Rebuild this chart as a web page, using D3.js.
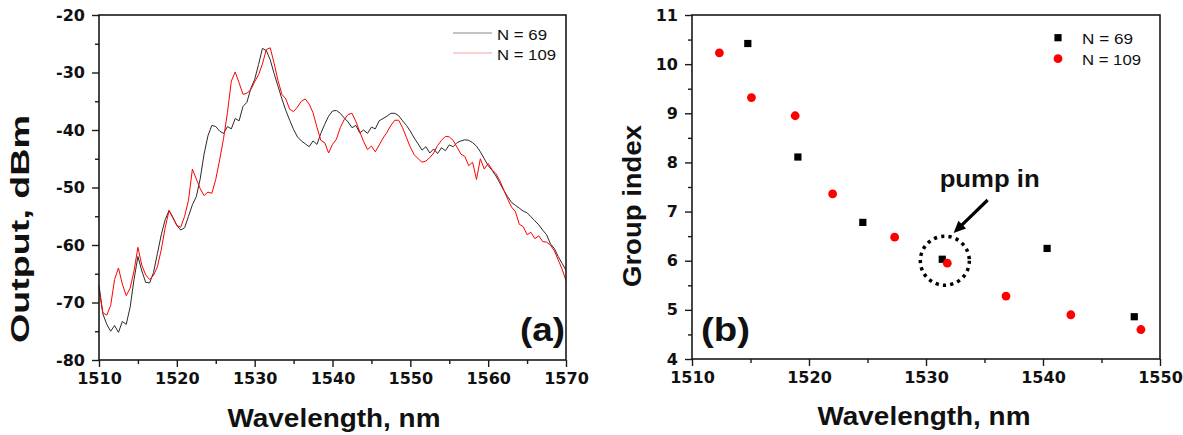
<!DOCTYPE html>
<html><head><meta charset="utf-8">
<script src="https://cdn.jsdelivr.net/npm/d3@7"></script>
<style>body{margin:0;background:#fff}svg{display:block}</style>
</head><body><svg id="c" width="1183" height="435"></svg>
<script>
// ---------- DATA ----------
const seriesLabels = ["N = 69", "N = 109"];
const panelLabels = ["(a)", "(b)"];
const xTitle = "Wavelength, nm";
const yTitleA = "Output, dBm";
const yTitleB = "Group index";
const annotationText = "pump in";

const spectrumWavelengths = [
 1510,1510.5,1511,1511.5,1512,1512.5,1513,1513.5,1514,1514.5,
 1515,1515.5,1516,1516.5,1517,1517.5,1518,1518.5,1519,1519.5,
 1520,1520.5,1521,1521.5,1522,1522.5,1523,1523.5,1524,1524.5,
 1525,1525.5,1526,1526.5,1527,1527.5,1528,1528.5,1529,1529.5,
 1530,1530.5,1531,1531.5,1532,1532.5,1533,1533.5,1534,1534.5,
 1535,1535.5,1536,1536.5,1537,1537.5,1538,1538.5,1539,1539.5,
 1540,1540.5,1541,1541.5,1542,1542.5,1543,1543.5,1544,1544.5,
 1545,1545.5,1546,1546.5,1547,1547.5,1548,1548.5,1549,1549.5,
 1550,1550.5,1551,1551.5,1552,1552.5,1553,1553.5,1554,1554.5,
 1555,1555.5,1556,1556.5,1557,1557.5,1558,1558.5,1559,1559.5,
 1560,1560.5,1561,1561.5,1562,1562.5,1563,1563.5,1564,1564.5,
 1565,1565.5,1566,1566.5,1567,1567.5,1568,1568.5,1569,1569.5,
 1570];
const outputN69 = [
 -67,-72,-73.8,-75,-74,-75.2,-73.3,-73.8,-70.8,-66,
 -62,-64.5,-66.5,-66.6,-64.8,-61.5,-58.2,-55.6,-54,-55.2,
 -56.6,-57.4,-57,-55,-53,-51.6,-48.5,-44.2,-41,-39.2,
 -39.4,-40.2,-40.6,-39.4,-39.8,-38,-38.4,-35.9,-35.2,-32.8,
 -31.2,-28.6,-25.8,-26.2,-27.8,-30.2,-32.4,-34.6,-36.6,-38.3,
 -39.9,-41.2,-41.9,-42.4,-42.9,-41.9,-42.5,-40.6,-39,-37.6,
 -36.7,-36.6,-37.1,-37.9,-38.6,-39.6,-39.2,-40.5,-40,-40.6,
 -39.5,-39.8,-38.4,-38,-37.6,-37.1,-37.1,-37.5,-38.4,-39.2,
 -40.2,-41.4,-42.4,-43.5,-42.9,-44,-43.3,-44.1,-43.1,-43.6,
 -42.6,-42.9,-42.2,-41.9,-41.7,-41.8,-42.2,-42.8,-43.8,-45,
 -46.2,-47,-48,-49.2,-50.5,-51.6,-52.6,-53.1,-53.6,-54.1,
 -54.4,-55.1,-55.8,-56.5,-57.4,-58.2,-59.8,-60.6,-62,-63.2,
 -64.4];
const outputN109 = [
 -67.8,-71.8,-72.2,-70.5,-66,-64,-66.8,-68.8,-67.5,-64.5,
 -60.4,-63.5,-65.2,-66,-65.3,-63.8,-60.8,-57,-54,-55.3,
 -56.6,-56.9,-55,-52.2,-46.8,-48.5,-50.2,-51.4,-50.8,-51,
 -48.6,-45.2,-41.5,-37,-31.5,-29.9,-31.8,-33.8,-33.6,-33,
 -31.6,-30.4,-28.5,-26,-25.7,-28.4,-31.4,-33.8,-34.6,-36.4,
 -36.8,-36,-35,-34.6,-35.5,-37,-39.5,-41.8,-42.2,-44,
 -42.5,-41.6,-39.6,-38.2,-37.3,-37.1,-38.5,-40.3,-42,-43.4,
 -42.8,-43.8,-42.6,-41.4,-40.4,-39.2,-38.3,-38.3,-39.6,-41.3,
 -43,-44.3,-45,-45.6,-45.4,-44.8,-44,-42.7,-41.8,-41.1,
 -41.2,-41.8,-43,-44.2,-44.6,-46.2,-45.6,-48.6,-45,-46.8,
 -45.8,-46.9,-47.6,-48.8,-50.4,-52,-53.4,-54.2,-56.4,-56.8,
 -58.2,-57.8,-58.9,-58.4,-59.4,-59.5,-60,-61,-62.6,-64.2,
 -66.2];

const groupWlN69 = [1514.77,1519.05,1524.6,1531.39,1540.35,1547.8];
const groupIdxN69 = [10.42,8.11,6.78,6.03,6.25,4.86];
const groupWlN109 = [1512.34,1515.08,1518.82,1522.02,1527.32,1531.82,1536.84,1542.38,1548.37];
const groupIdxN109 = [10.23,9.32,8.95,7.36,6.48,5.95,5.28,4.90,4.60];

const spectrumXTicks = [1510,1520,1530,1540,1550,1560,1570];
const spectrumXMinor = [1515,1525,1535,1545,1555,1565];
const spectrumYTicks = [-80,-70,-60,-50,-40,-30,-20];
const spectrumYMinor = [-75,-65,-55,-45,-35,-25];
const groupXTicks = [1510,1520,1530,1540,1550];
const groupXMinor = [1515,1525,1535,1545];
const groupYTicks = [4,5,6,7,8,9,10,11];
const groupYMinor = [4.5,5.5,6.5,7.5,8.5,9.5,10.5];

// annotation anchor in data units (pump wavelength / group index)
const pumpCircle = [1531.61, 6.0];
const pumpArrowFrom = [1535.27, 7.235];
const pumpArrowTo = [1532.36, 6.564];
const pumpTextAt = [1535.44, 7.5];

// ---------- DRAW ----------
const svg = d3.select("#c");
const INK = "#1a1a1a";
const RED = "#ff0000";
const TICKFONT = "'DejaVu Sans', sans-serif";
const TITLEFONT = "'Liberation Sans', Arial, sans-serif";

function axes(g, x, y, xt, xm, yt, ym) {
  const [x0, x1] = x.range(), [y0, y1] = y.range();
  const fmt = d => String(d);
  const bx = g.append("g").attr("transform", `translate(0,${y0})`)
    .call(d3.axisBottom(x).tickValues(xt).tickSize(7).tickPadding(6).tickFormat(fmt));
  const bxm = g.append("g").attr("transform", `translate(0,${y0})`)
    .call(d3.axisBottom(x).tickValues(xm).tickSize(4).tickFormat(""));
  const ly = g.append("g").attr("transform", `translate(${x0},0)`)
    .call(d3.axisLeft(y).tickValues(yt).tickSize(7).tickPadding(7).tickFormat(fmt));
  const lym = g.append("g").attr("transform", `translate(${x0},0)`)
    .call(d3.axisLeft(y).tickValues(ym).tickSize(4).tickFormat(""));
  [bx, bxm, ly, lym].forEach(a => {
    a.select(".domain").remove();
    a.selectAll("line").attr("stroke", INK).attr("stroke-width", 1.4);
    a.selectAll("text").attr("fill", "#111").style("font-family", TICKFONT)
      .style("font-weight", "bold").style("font-size", "16px");
  });
  g.append("rect").attr("x", x0).attr("y", y1).attr("width", x1 - x0).attr("height", y0 - y1)
    .attr("fill", "none").attr("stroke", INK).attr("stroke-width", 1.6);
}

function txt(g, s, x, y, size, weight, len, opts = {}) {
  const t = g.append("text").attr("x", x).attr("y", y).text(s)
    .attr("text-anchor", opts.anchor || "start")
    .style("font-family", TITLEFONT).style("font-weight", weight)
    .style("font-size", size + "px").attr("fill", opts.fill || "#111");
  if (len) t.attr("textLength", len).attr("lengthAdjust", "spacingAndGlyphs");
  if (opts.rotate) t.attr("transform", `rotate(-90,${x},${y})`);
  return t;
}

// ----- Panel (a) -----
const xa = d3.scaleLinear().domain([1510, 1570]).range([99, 566]);
const ya = d3.scaleLinear().domain([-80, -20]).range([360, 15]);
const ga = svg.append("g");
const lineA = (vals) => d3.line().x((d, i) => xa(spectrumWavelengths[i])).y(d => ya(d))(vals);
ga.append("path").attr("d", lineA(outputN69)).attr("fill", "none").attr("stroke", "#2a2a2a").attr("stroke-width", 1);
ga.append("path").attr("d", lineA(outputN109)).attr("fill", "none").attr("stroke", RED).attr("stroke-width", 1);
axes(ga, xa, ya, spectrumXTicks, spectrumXMinor, spectrumYTicks, spectrumYMinor);

// legend (a)
[["#8a8a8a", 33, 39], ["#f3a0a0", 53, 59]].forEach((c, i) => {
  ga.append("line").attr("x1", 453).attr("x2", 492).attr("y1", c[1]).attr("y2", c[1])
    .attr("stroke", c[0]).attr("stroke-width", 1.2);
  txt(ga, seriesLabels[i], 497, c[2] + 0.5, 15, "normal", i ? 59 : 50);
});
txt(ga, panelLabels[0], 520, 341, 33, "bold", 45);
txt(ga, xTitle, 334, 427, 25, "bold", 213, {anchor: "middle"});
txt(ga, yTitleA, 29, 229, 26, "bold", 228, {anchor: "middle", rotate: true});

// ----- Panel (b) -----
const xb = d3.scaleLinear().domain([1510, 1550]).range([692, 1160]);
const yb = d3.scaleLinear().domain([4, 11]).range([359, 15]);
const gb = svg.append("g");
axes(gb, xb, yb, groupXTicks, groupXMinor, groupYTicks, groupYMinor);

const sq = 7.2;
gb.selectAll("rect.n69").data(groupWlN69).join("rect").attr("class", "n69")
  .attr("x", (d) => xb(d) - sq / 2).attr("y", (d, i) => yb(groupIdxN69[i]) - sq / 2)
  .attr("width", sq).attr("height", sq).attr("fill", "#000");
gb.selectAll("circle.n109").data(groupWlN109).join("circle").attr("class", "n109")
  .attr("cx", d => xb(d)).attr("cy", (d, i) => yb(groupIdxN109[i])).attr("r", 4.4).attr("fill", RED);

// legend (b)
gb.append("rect").attr("x", 1058 - sq / 2).attr("y", 37.7 - sq / 2).attr("width", sq).attr("height", sq).attr("fill", "#000");
gb.append("circle").attr("cx", 1058).attr("cy", 58.7).attr("r", 4.4).attr("fill", RED);
txt(gb, seriesLabels[0], 1082, 43.5, 15, "normal", 51);
txt(gb, seriesLabels[1], 1082, 64.5, 15, "normal", 59);

txt(gb, panelLabels[1], 701, 341, 33, "bold", 49);
txt(gb, xTitle, 924, 425, 25, "bold", 213, {anchor: "middle"});
txt(gb, yTitleB, 641, 206, 26, "bold", 162, {anchor: "middle", rotate: true});

// annotation
gb.append("circle").attr("cx", xb(pumpCircle[0])).attr("cy", yb(pumpCircle[1])).attr("r", 24.5)
  .attr("fill", "none").attr("stroke", "#000").attr("stroke-width", 3.5).attr("stroke-dasharray", "3.2,4.2");
const ax0 = xb(pumpArrowFrom[0]), ay0 = yb(pumpArrowFrom[1]);
const ax1 = xb(pumpArrowTo[0]), ay1 = yb(pumpArrowTo[1]);
const dx = ax1 - ax0, dy = ay1 - ay0, L = Math.hypot(dx, dy), ux = dx / L, uy = dy / L;
const hl = 12, hw = 5.5;
gb.append("line").attr("x1", ax0).attr("y1", ay0).attr("x2", ax1 - ux * hl * 0.8).attr("y2", ay1 - uy * hl * 0.8)
  .attr("stroke", "#000").attr("stroke-width", 3.2);
gb.append("path").attr("d", `M${ax1},${ay1}L${ax1 - ux * hl - uy * hw},${ay1 - uy * hl + ux * hw}L${ax1 - ux * hl + uy * hw},${ay1 - uy * hl - ux * hw}Z`)
  .attr("fill", "#000");
txt(gb, annotationText, xb(pumpTextAt[0]), yb(pumpTextAt[1]), 23, "bold", 100, {anchor: "middle"});
</script></body></html>
